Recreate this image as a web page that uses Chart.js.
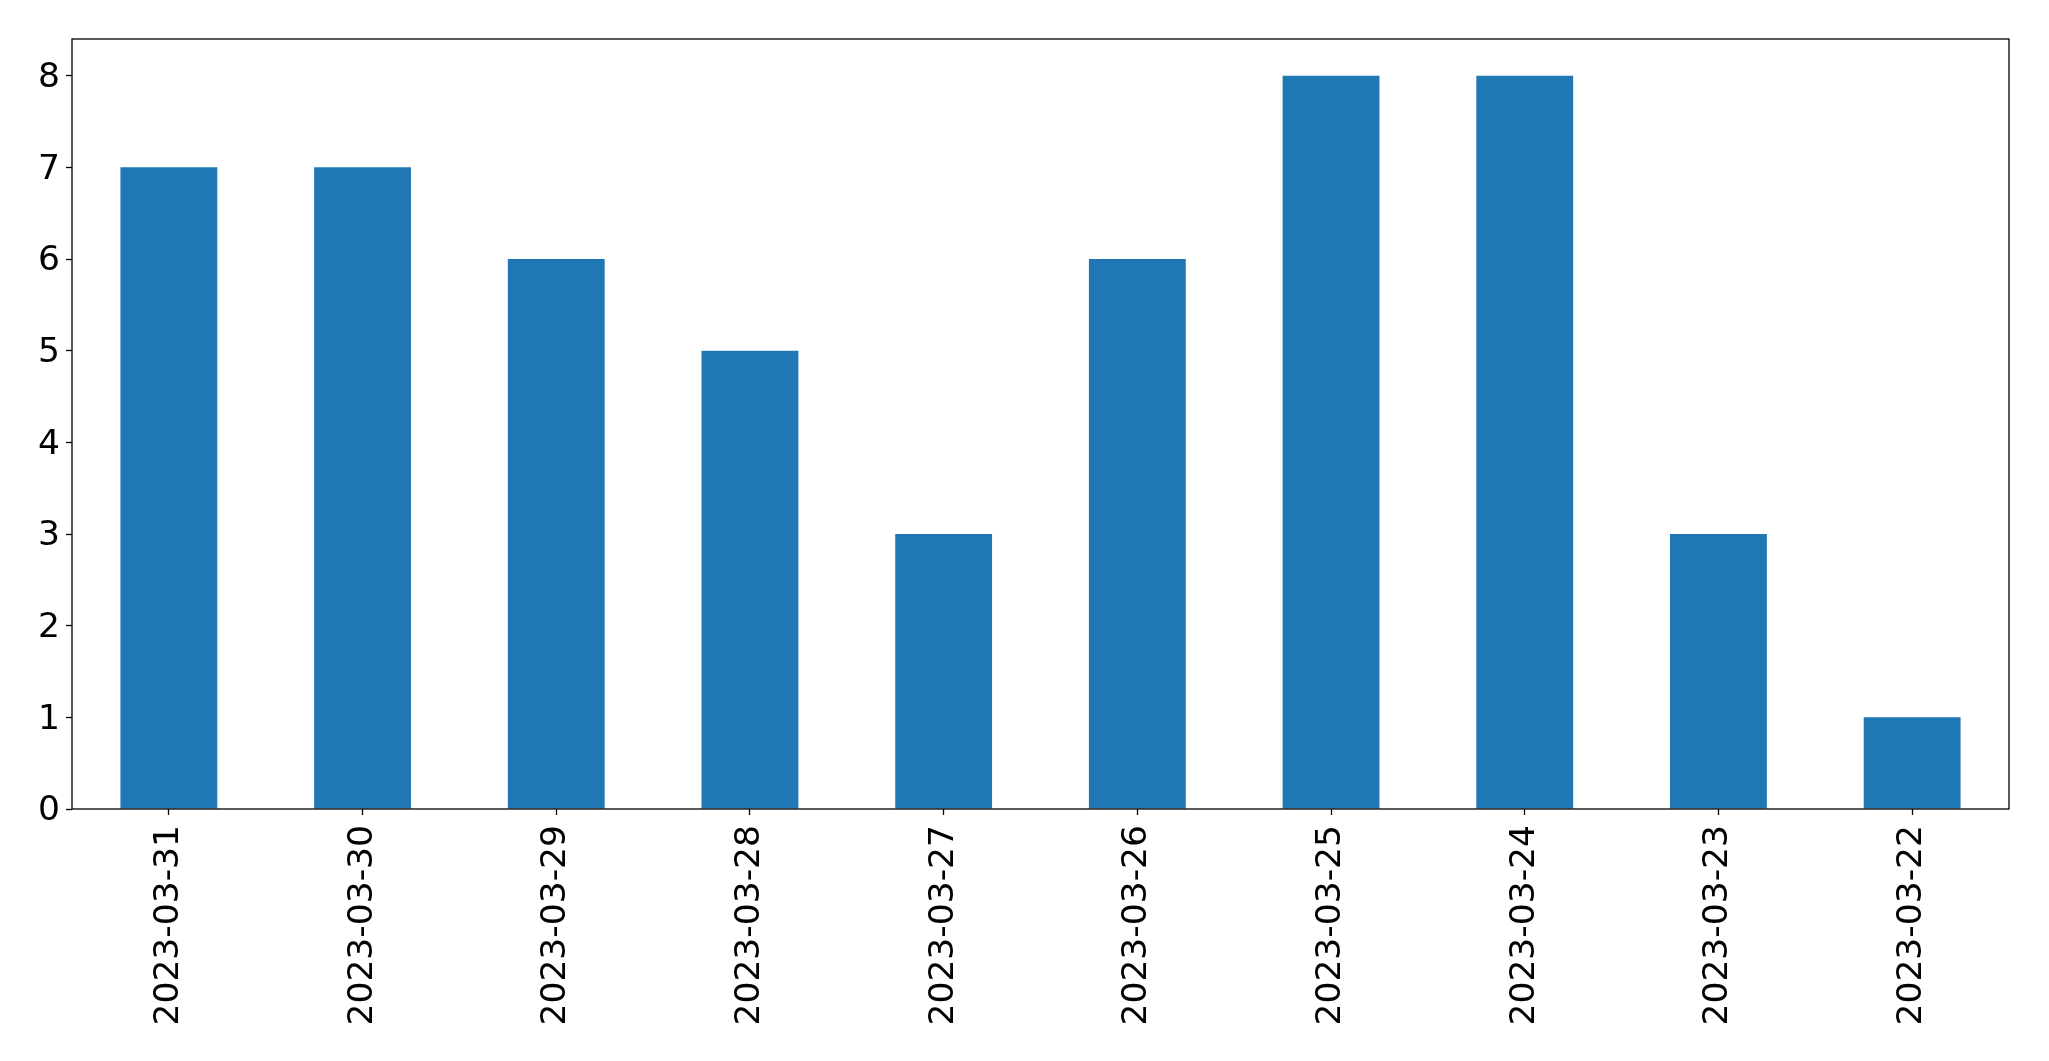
<!DOCTYPE html>
<html>
<head>
<meta charset="utf-8">
<script src="https://cdn.jsdelivr.net/npm/chart.js@4/dist/chart.umd.min.js"></script>
<style>
html,body{margin:0;padding:0;background:#fff;}
#wrap{width:2049px;height:1061px;position:relative;}
</style>
</head>
<body>
<div id="wrap"><canvas id="c" width="2049" height="1061"></canvas></div>
<script>
const categories = ["2023-03-31","2023-03-30","2023-03-29","2023-03-28","2023-03-27","2023-03-26","2023-03-25","2023-03-24","2023-03-23","2023-03-22"];
const values = [7,7,6,5,3,6,8,8,3,1];
const yTicks = [0,1,2,3,4,5,6,7,8];

const frame = {
  id: 'frame',
  afterDraw(chart) {
    const {ctx, chartArea: a} = chart;
    ctx.save();
    ctx.strokeStyle = '#000';
    ctx.lineWidth = 1.3;
    ctx.strokeRect(a.left, a.top, a.right - a.left, a.bottom - a.top);
    ctx.restore();
  }
};

const font = {family: "'DejaVu Sans'", size: 34.5};
const yFont = {family: "'DejaVu Sans'", size: 34.5, lineHeight: '5px'};

new Chart(document.getElementById('c'), {
  type: 'bar',
  data: {
    labels: categories,
    datasets: [{
      data: values,
      backgroundColor: '#1f77b4',
      borderWidth: 0,
      barPercentage: 0.5,
      categoryPercentage: 1.0
    }]
  },
  options: {
    responsive: false,
    animation: false,
    devicePixelRatio: 1,
    layout: {padding: {top: 39, right: 40, left: 0, bottom: 0}},
    plugins: {legend: {display: false}, tooltip: {enabled: false}},
    scales: {
      x: {
        offset: true,
        grid: {display: true, drawOnChartArea: false, offset: false, tickLength: 6, tickColor: '#000', tickWidth: 1.3},
        border: {display: false},
        ticks: {color: '#000', font: font, minRotation: 90, maxRotation: 90, padding: 10, autoSkip: false},
        afterFit(s) { s.height = 252; }
      },
      y: {
        min: 0,
        max: 8.4,
        afterBuildTicks(s) { s.ticks = yTicks.map(v => ({value: v})); },
        grid: {display: true, drawOnChartArea: false, tickLength: 6, tickColor: '#000', tickWidth: 1.3},
        border: {display: false},
        ticks: {color: '#000', font: yFont, padding: 6, callback: v => ['', String(v)]},
        afterFit(s) { s.width = 72; }
      }
    }
  },
  plugins: [frame]
});
</script>
</body>
</html>
